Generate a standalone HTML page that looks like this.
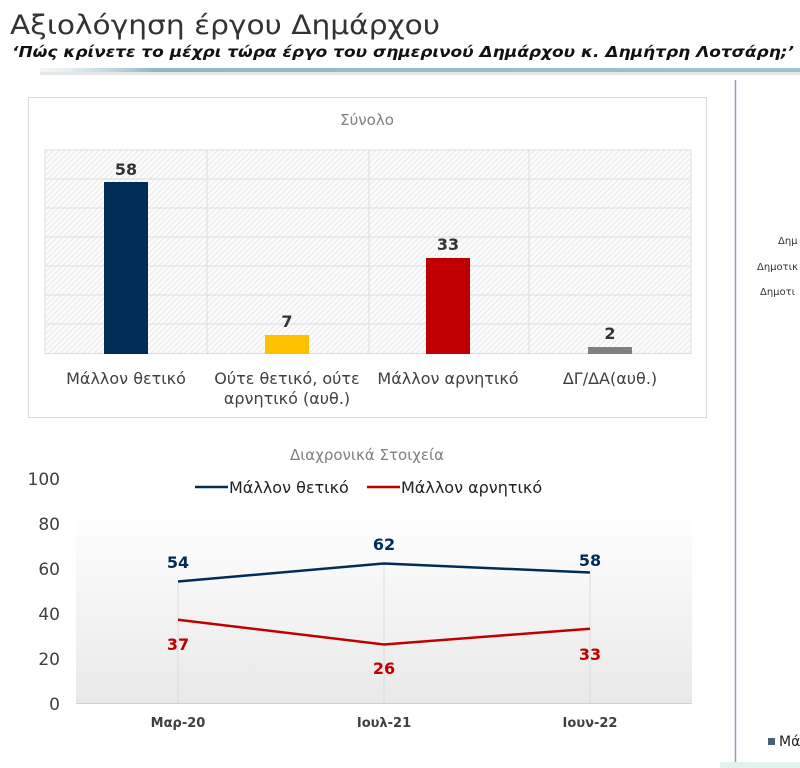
<!DOCTYPE html>
<html><head><meta charset="utf-8"><style>
html,body{margin:0;padding:0;background:#fff;}
svg{display:block;font-family:"DejaVu Sans","Liberation Sans",sans-serif;}
</style></head><body>
<svg width="800" height="768" viewBox="0 0 800 768" xmlns="http://www.w3.org/2000/svg">
<defs>
<pattern id="hatch" width="4" height="4" patternUnits="userSpaceOnUse" patternTransform="rotate(45)">
<rect width="4" height="4" fill="#fbfbfb"/><line x1="0" y1="0" x2="0" y2="4" stroke="#d8d8d8" stroke-width="1"/>
</pattern>
<linearGradient id="hl" x1="0" x2="1"><stop offset="0" stop-color="#d0e4ea" stop-opacity="0.3"/><stop offset="0.15" stop-color="#8fb8c4"/><stop offset="1" stop-color="#9cc4cc"/></linearGradient>
<linearGradient id="pbg" x1="0" y1="0" x2="0" y2="1"><stop offset="0" stop-color="#ffffff"/><stop offset="1" stop-color="#e9e9e9"/></linearGradient>
</defs>
<text x="10" y="34" font-size="27" fill="#333" textLength="430" lengthAdjust="spacingAndGlyphs">Αξιολόγηση έργου Δημάρχου</text>
<text x="12" y="57" font-size="15" font-style="italic" font-weight="bold" fill="#111" textLength="782" lengthAdjust="spacingAndGlyphs">‘Πώς κρίνετε το μέχρι τώρα έργο του σημερινού Δημάρχου κ. Δημήτρη Λοτσάρη;’</text>
<rect x="40" y="68" width="760" height="4" fill="url(#hl)"/>
<rect x="40" y="72" width="760" height="3" fill="#e6e6e6"/>
<line x1="735.5" y1="80" x2="735.5" y2="768" stroke="#8a9ac8" stroke-width="1.5"/>
<!-- bar panel -->
<rect x="28.5" y="97.5" width="678" height="320" fill="#fff" stroke="#d9d9d9"/>
<text x="367" y="125" font-size="15" fill="#7f7f7f" text-anchor="middle">Σύνολο</text>
<rect x="45" y="150" width="646" height="204" fill="url(#hatch)"/>
<g stroke="#dcdcdc" stroke-width="1">
<line x1="45" y1="150" x2="691" y2="150"/><line x1="45" y1="179" x2="691" y2="179"/><line x1="45" y1="208" x2="691" y2="208"/><line x1="45" y1="237" x2="691" y2="237"/><line x1="45" y1="266" x2="691" y2="266"/><line x1="45" y1="295" x2="691" y2="295"/><line x1="45" y1="324" x2="691" y2="324"/><line x1="45" y1="353.5" x2="691" y2="353.5"/>
<line x1="207" y1="150" x2="207" y2="354"/><line x1="369" y1="150" x2="369" y2="354"/><line x1="529" y1="150" x2="529" y2="354"/><line x1="45" y1="150" x2="45" y2="354"/><line x1="691" y1="150" x2="691" y2="354"/>
</g>
<rect x="104" y="182" width="44" height="172" fill="#002d56"/>
<rect x="265" y="335" width="44" height="19" fill="#ffc000"/>
<rect x="426" y="258" width="44" height="96" fill="#c00000"/>
<rect x="588" y="347" width="44" height="7" fill="#7f7f7f"/>
<g font-size="16" font-weight="bold" fill="#333" text-anchor="middle">
<text x="126" y="175">58</text><text x="287" y="327">7</text><text x="448" y="250">33</text><text x="610" y="339">2</text>
</g>
<g font-size="16" fill="#404040" text-anchor="middle">
<text x="126" y="384">Μάλλον θετικό</text>
<text x="287" y="384">Ούτε θετικό, ούτε</text><text x="287" y="404">αρνητικό (αυθ.)</text>
<text x="448" y="384">Μάλλον αρνητικό</text>
<text x="610" y="384">ΔΓ/ΔΑ(αυθ.)</text>
</g>
<!-- line chart -->
<text x="367" y="460" font-size="15" fill="#7f7f7f" text-anchor="middle">Διαχρονικά Στοιχεία</text>
<line x1="195" y1="487" x2="228" y2="487" stroke="#002d56" stroke-width="2.5"/>
<text x="229" y="493" font-size="16" fill="#222">Μάλλον θετικό</text>
<line x1="367" y1="487" x2="400" y2="487" stroke="#c00000" stroke-width="2.5"/>
<text x="401" y="493" font-size="16" fill="#222">Μάλλον αρνητικό</text>
<rect x="76" y="508" width="616" height="195" fill="url(#pbg)"/>
<line x1="76" y1="703.5" x2="692" y2="703.5" stroke="#d0d0d0"/>
<g stroke="#dadada"><line x1="178" y1="583" x2="178" y2="703"/><line x1="384" y1="565" x2="384" y2="703"/><line x1="590" y1="574" x2="590" y2="703"/></g>
<g font-size="17" fill="#404040" text-anchor="end">
<text x="60" y="485">100</text><text x="60" y="530">80</text><text x="60" y="575">60</text><text x="60" y="620">40</text><text x="60" y="665">20</text><text x="60" y="710">0</text>
</g>
<polyline points="178,581.5 384,563.5 590,572.5" fill="none" stroke="#002d56" stroke-width="2.5"/>
<polyline points="178,619.7 384,644.5 590,628.7" fill="none" stroke="#c00000" stroke-width="2.5"/>
<g font-size="16" font-weight="bold" text-anchor="middle">
<text x="178" y="568" fill="#002d56">54</text><text x="384" y="550" fill="#002d56">62</text><text x="590" y="566" fill="#002d56">58</text>
<text x="178" y="650" fill="#c00000">37</text><text x="384" y="674" fill="#c00000">26</text><text x="590" y="660" fill="#c00000">33</text>
</g>
<g font-size="13" font-weight="bold" fill="#404040" text-anchor="middle">
<text x="178" y="727">Μαρ-20</text><text x="384" y="727">Ιουλ-21</text><text x="590" y="727">Ιουν-22</text>
</g>
<rect x="720" y="762" width="80" height="6" fill="#e4f2ec"/>
<g font-size="10" fill="#333">
<text x="778" y="244">Δημ</text><text x="757" y="270">Δημοτικ</text><text x="760" y="295">Δημοτι</text>
</g>
<rect x="768" y="738" width="7" height="7" fill="#4a6078"/>
<text x="779" y="746" font-size="14" fill="#222">Μά</text>
</svg>
</body></html>
